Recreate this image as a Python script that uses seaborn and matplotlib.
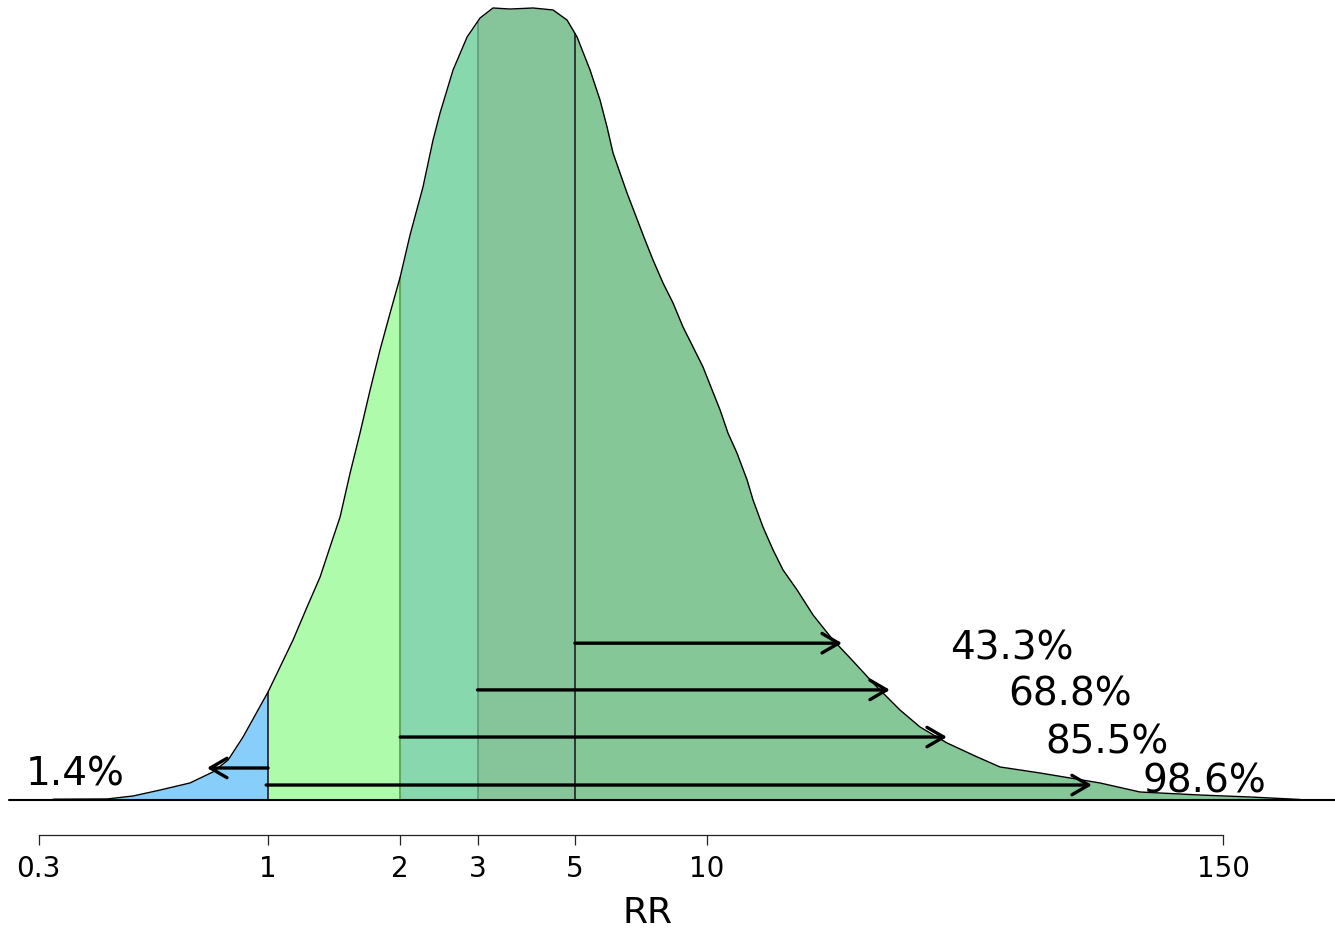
import numpy as np
import matplotlib
matplotlib.use("Agg")
import matplotlib.pyplot as plt
from matplotlib.ticker import NullLocator
import seaborn as sns

# ---- data ----
rr = [0.324, 0.430, 0.493, 0.568, 0.664, 0.749, 0.811, 0.877, 1.0, 1.065, 1.140,
      1.227, 1.314, 1.384, 1.459, 1.538, 1.620, 1.708, 1.799, 1.897, 2.0, 2.106,
      2.254, 2.376, 2.465, 2.639, 2.841, 3.041, 3.254, 3.558, 4.015, 4.459, 4.799,
      5.057, 5.414, 5.705, 5.919, 6.108, 6.573, 7.224, 7.533, 7.938, 8.367, 8.817,
      9.292, 9.792, 10.27, 10.71, 11.16, 11.70, 12.34, 12.73, 13.41, 14.14, 14.90,
      16.04, 17.44, 19.37, 21.18, 24.14, 27.52, 30.56, 35.22, 40.78, 46.49, 57.35,
      78.56, 96.90, 132.7, 172.6, 212.8, 224.3]
density = [0.0010, 0.0013, 0.0051, 0.0126, 0.0215, 0.0354, 0.0505, 0.0795, 0.1364,
           0.1679, 0.2020, 0.2437, 0.2816, 0.3194, 0.3573, 0.4129, 0.4634, 0.5177,
           0.5682, 0.6149, 0.6604, 0.7134, 0.7740, 0.8333, 0.8674, 0.9217, 0.9634,
           0.9874, 1.0000, 0.9987, 1.0000, 0.9975, 0.9848, 0.9634, 0.9217, 0.8838,
           0.8497, 0.8169, 0.7664, 0.7071, 0.6818, 0.6528, 0.6275, 0.5972, 0.5720,
           0.5467, 0.5177, 0.4924, 0.4634, 0.4381, 0.4040, 0.3788, 0.3447, 0.3157,
           0.2904, 0.2652, 0.2336, 0.2020, 0.1793, 0.1452, 0.1136, 0.0922, 0.0720,
           0.0556, 0.0417, 0.0341, 0.0215, 0.0101, 0.0063, 0.0038, 0.0013, 0.0006]

cuts = [1, 2, 3, 5]
region_colors = ["#87CEFA", "#AEFCAB", "#88D8AE", "#86C49A", "#86C797"]
cut_line_colors = ["#1E1E1E", "#4E9A50", "#5C9C76", "#1E1E1E"]

arrow_start = [5, 3, 2, 1, 0.99]
arrow_end = [20.3, 26.1, 35.2, 0.726, 75.3]
arrow_y = [0.198, 0.139, 0.0795, 0.0404, 0.0189]

pct_labels = ["43.3%", "68.8%", "85.5%", "1.4%", "98.6%"]
pct_x = [49.5, 67.1, 81.6, 0.3634, 135.6]
pct_y = [0.178, 0.119, 0.0593, 0.0189, 0.0101]

tick_vals = [0.3, 1, 2, 3, 5, 10, 150]
tick_labels = ["0.3", "1", "2", "3", "5", "10", "150"]

# ---- drawing ----
sns.set_style("white")
plt.rcParams["font.family"] = ["DejaVu Sans"]

fig = plt.figure(figsize=(13.35, 9.32), dpi=100)
ax = fig.add_axes([0, 0, 1, 1])
ax.set_xscale("log")

x = np.array(rr)
y = np.array(density)
lx = np.log10(x)

def dens_at(v):
    return float(np.interp(np.log10(v), lx, y))

bounds = [x[0]] + cuts + [x[-1]]
for i in range(len(bounds) - 1):
    a, b = bounds[i], bounds[i + 1]
    mask = (x > a) & (x < b)
    xs = np.concatenate([[a], x[mask], [b]])
    ys = np.array([dens_at(v) for v in xs])
    ax.fill_between(xs, 0, ys, color=region_colors[i], lw=0, zorder=1)

for c, col in zip(cuts, cut_line_colors):
    ax.vlines(c, 0, dens_at(c), color=col, lw=1.2, zorder=2)

sns.lineplot(x=x, y=y, color="black", lw=1.0, ax=ax, zorder=3)

ax.axhline(0, xmin=9 / 1335, xmax=1, color="black", lw=1.5, zorder=3)

for s, e, yy in zip(arrow_start, arrow_end, arrow_y):
    ax.annotate("", xy=(e, yy), xytext=(s, yy),
                arrowprops=dict(arrowstyle="->,head_length=0.6,head_width=0.35",
                                lw=2.4, color="black", mutation_scale=20,
                                shrinkA=0, shrinkB=0), zorder=4)

for t, tx, ty in zip(pct_labels, pct_x, pct_y):
    ax.text(tx, ty, t, ha="center", va="baseline", fontsize=28, color="black", zorder=5)

# axis limits matching the reference pixel layout
ax.set_xlim(0.2451, 269.5)
ax.set_ylim(-132 / 792, 800 / 792)

for side in ["left", "right", "top"]:
    ax.spines[side].set_visible(False)
ax.spines["bottom"].set_position(("data", -35 / 792))
ax.spines["bottom"].set_bounds(0.3, 150)
ax.spines["bottom"].set_linewidth(0.9)
ax.spines["bottom"].set_color("#222222")

ax.set_xticks(tick_vals)
ax.set_xticklabels(tick_labels)
ax.xaxis.set_minor_locator(NullLocator())
ax.tick_params(axis="x", direction="out", length=7.5, width=0.9, color="#222222",
               labelsize=20, labelcolor="black", pad=7, bottom=True)
ax.set_yticks([])
ax.set_xlabel("RR", fontsize=26, color="black")
ax.xaxis.set_label_coords(648 / 1335, 2 / 932)
ax.xaxis.label.set_va("bottom")
ax.set_facecolor("white")
fig.patch.set_facecolor("white")

fig.savefig("out.png", dpi=100, facecolor="white")
